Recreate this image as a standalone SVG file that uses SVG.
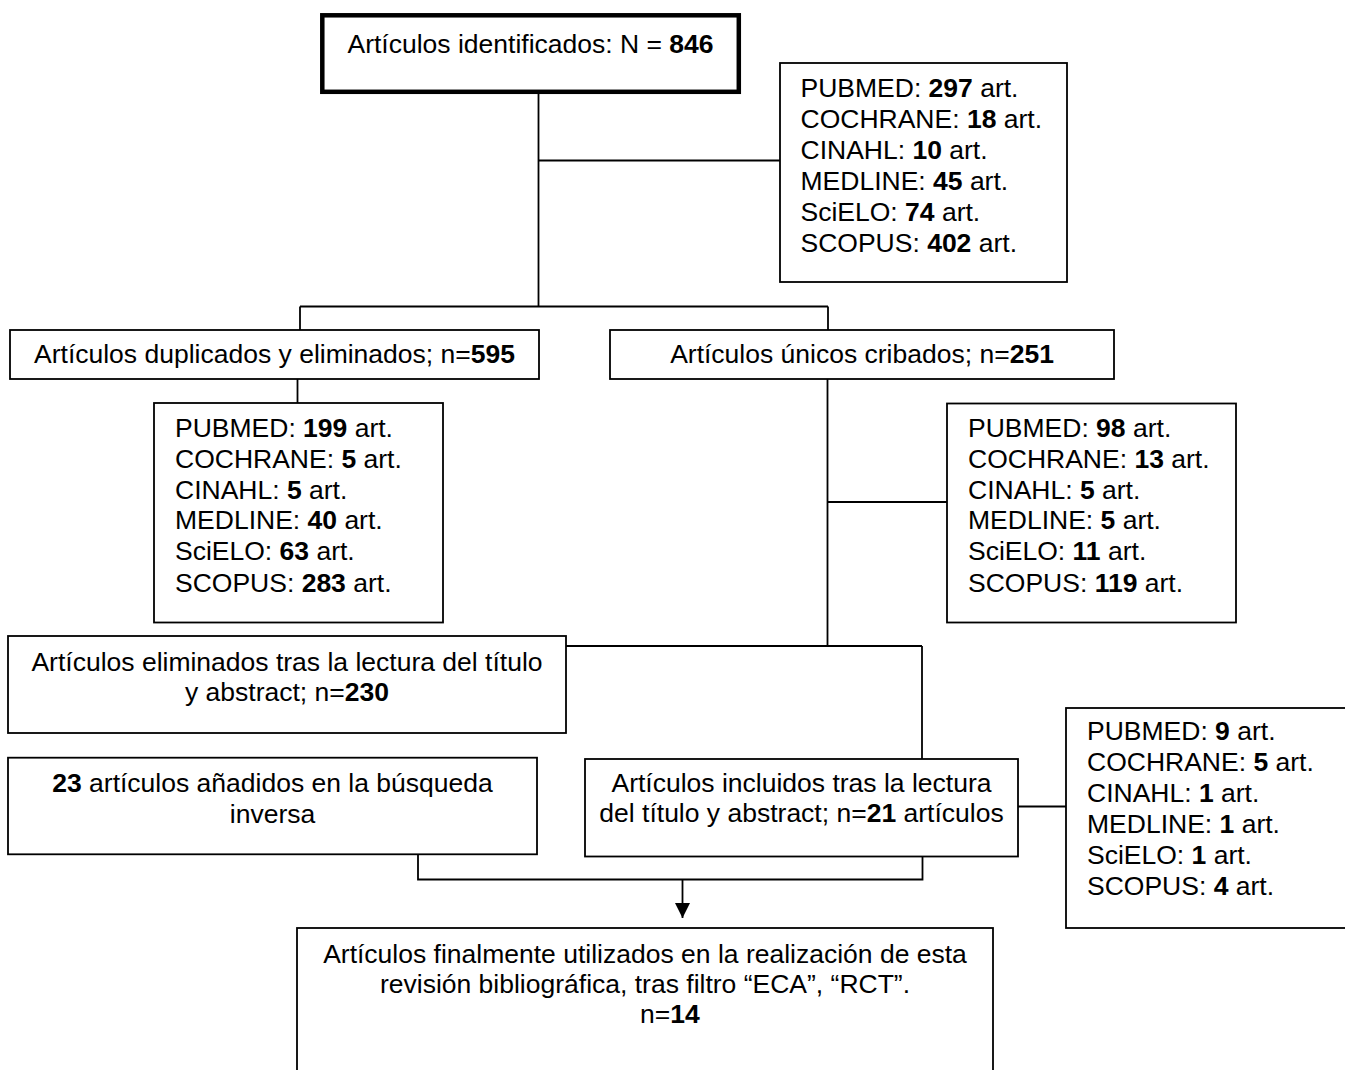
<svg xmlns="http://www.w3.org/2000/svg" width="1345" height="1070" viewBox="0 0 1345 1070">
<style>
.box{fill:#fff;stroke:#000;stroke-width:1.8}
.thick{fill:#fff;stroke:#000;stroke-width:4.5}
.ln{fill:none;stroke:#000;stroke-width:1.8}
text{font-family:"Liberation Sans",Arial,sans-serif;font-size:26.5px;fill:#000}
.c{text-anchor:middle}
.b{font-weight:bold}
</style>
<defs>
<marker id="arr" markerWidth="15" markerHeight="15" refX="15" refY="7.5" orient="auto" markerUnits="userSpaceOnUse">
<path d="M0,0 L15,7.5 L0,15 Z" fill="#000"/>
</marker>
</defs>
<rect width="1345" height="1070" fill="#fff"/>
<g id="connectors">
<line class="ln" x1="538.5" y1="92" x2="538.5" y2="306.5"/>
<line class="ln" x1="538.5" y1="160.5" x2="780" y2="160.5"/>
<line class="ln" x1="300" y1="306.5" x2="828" y2="306.5"/>
<line class="ln" x1="300" y1="306.5" x2="300" y2="330"/>
<line class="ln" x1="828" y1="306.5" x2="828" y2="330"/>
<line class="ln" x1="297.5" y1="379" x2="297.5" y2="403"/>
<line class="ln" x1="827.5" y1="379" x2="827.5" y2="646"/>
<line class="ln" x1="827.5" y1="502" x2="947" y2="502"/>
<line class="ln" x1="566" y1="646" x2="922" y2="646"/>
<line class="ln" x1="922" y1="646" x2="922" y2="759"/>
<line class="ln" x1="1018" y1="806.5" x2="1066" y2="806.5"/>
<polyline class="ln" points="418,854 418,879.5 922.5,879.5 922.5,856.5"/>
<line class="ln" x1="682.5" y1="879.5" x2="682.5" y2="918" marker-end="url(#arr)"/>
</g>
<g id="identificados">
<rect class="thick" x="322.3" y="15.3" width="416.5" height="76.5"/>
<text class="c" x="530.5" y="53">Artículos identificados: N = <tspan class="b">846</tspan></text>
</g>
<g id="fuentes-identificados">
<rect class="box" x="780" y="63" width="287" height="219"/>
<text x="800.5" y="97">PUBMED: <tspan class="b">297</tspan> art.</text>
<text x="800.5" y="128">COCHRANE: <tspan class="b">18</tspan> art.</text>
<text x="800.5" y="159">CINAHL: <tspan class="b">10</tspan> art.</text>
<text x="800.5" y="189.5">MEDLINE: <tspan class="b">45</tspan> art.</text>
<text x="800.5" y="220.5">SciELO: <tspan class="b">74</tspan> art.</text>
<text x="800.5" y="251.5">SCOPUS: <tspan class="b">402</tspan> art.</text>
</g>
<g id="duplicados">
<rect class="box" x="10" y="330" width="529" height="49"/>
<text class="c" x="274.5" y="363">Artículos duplicados y eliminados; n=<tspan class="b">595</tspan></text>
</g>
<g id="unicos">
<rect class="box" x="610" y="330" width="504" height="49"/>
<text class="c" x="862" y="363">Artículos únicos cribados; n=<tspan class="b">251</tspan></text>
</g>
<g id="fuentes-duplicados">
<rect class="box" x="154" y="403" width="289" height="219.5"/>
<text x="175" y="437">PUBMED: <tspan class="b">199</tspan> art.</text>
<text x="175" y="468">COCHRANE: <tspan class="b">5</tspan> art.</text>
<text x="175" y="498.5">CINAHL: <tspan class="b">5</tspan> art.</text>
<text x="175" y="529">MEDLINE: <tspan class="b">40</tspan> art.</text>
<text x="175" y="560">SciELO: <tspan class="b">63</tspan> art.</text>
<text x="175" y="591.5">SCOPUS: <tspan class="b">283</tspan> art.</text>
</g>
<g id="fuentes-unicos">
<rect class="box" x="947" y="403.5" width="289" height="219"/>
<text x="968" y="437">PUBMED: <tspan class="b">98</tspan> art.</text>
<text x="968" y="468">COCHRANE: <tspan class="b">13</tspan> art.</text>
<text x="968" y="498.5">CINAHL: <tspan class="b">5</tspan> art.</text>
<text x="968" y="529">MEDLINE: <tspan class="b">5</tspan> art.</text>
<text x="968" y="560">SciELO: <tspan class="b">11</tspan> art.</text>
<text x="968" y="591.5">SCOPUS: <tspan class="b">119</tspan> art.</text>
</g>
<g id="eliminados">
<rect class="box" x="8" y="636" width="558" height="97"/>
<text class="c" x="287" y="671">Artículos eliminados tras la lectura del título</text>
<text class="c" x="287" y="701">y abstract; n=<tspan class="b">230</tspan></text>
</g>
<g id="anadidos">
<rect class="box" x="8" y="757.7" width="529" height="96.6"/>
<text class="c" x="272.5" y="792"><tspan class="b">23</tspan> artículos añadidos en la búsqueda</text>
<text class="c" x="272.5" y="822.5">inversa</text>
</g>
<g id="incluidos">
<rect class="box" x="585" y="759" width="433" height="97.5"/>
<text class="c" x="801.5" y="791.5">Artículos incluidos tras la lectura</text>
<text class="c" x="801.5" y="821.5">del título y abstract; n=<tspan class="b">21</tspan> artículos</text>
</g>
<g id="fuentes-incluidos">
<rect class="box" x="1066" y="708" width="290" height="220"/>
<text x="1087" y="739.5">PUBMED: <tspan class="b">9</tspan> art.</text>
<text x="1087" y="770.5">COCHRANE: <tspan class="b">5</tspan> art.</text>
<text x="1087" y="801.5">CINAHL: <tspan class="b">1</tspan> art.</text>
<text x="1087" y="832.5">MEDLINE: <tspan class="b">1</tspan> art.</text>
<text x="1087" y="863.5">SciELO: <tspan class="b">1</tspan> art.</text>
<text x="1087" y="894.5">SCOPUS: <tspan class="b">4</tspan> art.</text>
</g>
<g id="final">
<rect class="box" x="297" y="928" width="696" height="160"/>
<text class="c" x="645" y="963">Artículos finalmente utilizados en la realización de esta</text>
<text class="c" x="645" y="993">revisión bibliográfica, tras filtro “ECA”, “RCT”.</text>
<text x="640" y="1023">n=<tspan class="b">14</tspan></text>
</g>
</svg>
